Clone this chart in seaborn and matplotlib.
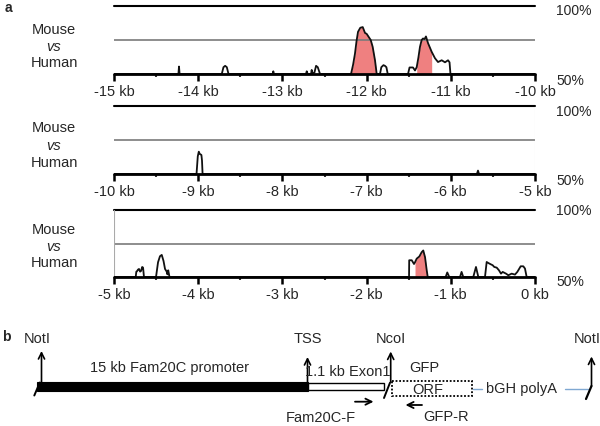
import numpy as np
import matplotlib
matplotlib.use("Agg")
import matplotlib.pyplot as plt
from matplotlib.patches import Rectangle
import seaborn as sns

sns.set_style("white")
plt.rcParams["font.family"] = ["Liberation Sans", "DejaVu Sans"]

# ---------------- data: percent identity (mouse vs human) ----------------
pos1 = [-15.0, -14.235, -14.228, -14.221, -13.72, -13.70, -13.68, -13.66, -13.64,
        -13.115, -13.108, -13.10, -12.72, -12.711, -12.70, -12.66, -12.652, -12.645,
        -12.62, -12.60, -12.58, -12.553, -12.185, -12.16, -12.138, -12.12, -12.102,
        -12.075, -12.046, -12.03, -12.019, -11.999, -11.983, -11.951, -11.928, -11.90,
        -11.88, -11.841, -11.825, -11.800, -11.782, -11.765, -11.749, -11.508, -11.49,
        -11.449, -11.425, -11.405, -11.385, -11.366, -11.346, -11.330, -11.312, -11.295,
        -11.271, -11.227, -11.188, -11.152, -11.108, -11.069, -11.033, -11.015, -11.004,
        -10.0]
val1 = [50, 50, 55.5, 50, 50, 55, 56, 55, 50,
        50, 52, 50, 50, 52, 50, 50, 53, 50.5,
        51, 56, 55, 50, 50, 57, 65, 74, 81,
        84, 84.5, 82, 80.2, 79.5, 78, 75, 70, 60,
        50, 50, 55, 56.5, 56, 55, 50, 50, 54.8,
        54.8, 52.6, 55, 62, 70, 75, 76.1, 75.7, 77.6,
        72.8, 66.3, 61.6, 58.8, 60.1, 58.6, 60.1, 58.6, 50,
        50]

pos2 = [-10.0, -9.02, -9.005, -8.993, -8.982, -8.962, -8.955, -8.948,
        -5.69, -5.677, -5.665, -5.0]
val2 = [50, 50, 63, 66.4, 64.8, 64, 60, 50,
        50, 52.5, 50, 50]

pos3 = [-5.0, -4.742, -4.735, -4.727, -4.715, -4.703, -4.690, -4.679, -4.665, -4.655,
        -4.644, -4.501, -4.477, -4.454, -4.433, -4.412, -4.394, -4.374, -4.366, -4.356,
        -4.341, -1.496, -1.494, -1.464, -1.437, -1.425, -1.405, -1.374, -1.346, -1.327,
        -1.306, -1.286, -1.274, -1.061, -1.042, -1.018, -0.891, -0.872, -0.852, -0.733,
        -0.701, -0.673, -0.594, -0.574, -0.556, -0.526, -0.503, -0.484, -0.455, -0.428,
        -0.404, -0.384, -0.344, -0.317, -0.277, -0.238, -0.210, -0.170, -0.139, -0.119,
        -0.099, 0.0]
val3 = [50, 50, 54, 54.3, 55.5, 56, 54, 54.5, 57.5, 57,
        50, 50, 61, 65.5, 66.5, 62, 56, 54, 52, 55,
        50, 50, 62.5, 62.5, 59.7, 61, 63.7, 65.3, 68.5, 69.8,
        64.8, 55, 50, 50, 53.4, 50, 50, 53.8, 50, 50,
        57.5, 50, 50, 61.2, 60.5, 59.5, 58.8, 57.5, 57, 55,
        52.5, 53.8, 52.5, 51.3, 52.5, 51.8, 53.8, 58, 58, 56.3,
        50, 50]

# conserved regions (filled)
fills1 = [(-12.185, -11.88), (-11.405, -11.227)]
fills2 = []
fills3 = [(-1.425, -1.274)]

starts = [-15, -10, -5]

# ---------------- figure ----------------
W, H = 600, 426
fig = plt.figure(figsize=(W / 100, H / 100), dpi=100)

panel_px = [(6, 74), (106, 174), (210, 277)]
data = [(pos1, val1, fills1), (pos2, val2, fills2), (pos3, val3, fills3)]
fill_color = "#EF8080"

for (top, bot), (pos, val, fills), start in zip(panel_px, data, starts):
    ax = fig.add_axes([114 / W, 1 - bot / H, 421 / W, (bot - top) / H])
    x = np.array(pos)
    y = np.array(val)
    for a, b in fills:
        m = (x >= a - 1e-9) & (x <= b + 1e-9)
        ax.fill_between(x, 50, y, where=m, color=fill_color, lw=0, zorder=1)
    sns.lineplot(x=x, y=y, ax=ax, color="#111111", lw=1.3, sort=False,
                 estimator=None, zorder=3)
    ax.set_xlim(start, start + 5)
    ax.set_ylim(50, 100)
    ax.axhline(100, color="black", lw=1.5, clip_on=False, zorder=2)
    ax.axhline(75, color="#7a7a7a", lw=1.2, zorder=2)
    ax.axhline(50, color="black", lw=2.0, clip_on=False, zorder=4)
    for s in ax.spines.values():
        s.set_visible(False)
    ticks = np.arange(start, start + 5.01, 1)
    ax.set_xticks(ticks)
    ax.set_xticklabels([f"{int(t)} kb" for t in ticks])
    ax.set_xticks(np.arange(start + 0.5, start + 5, 1), minor=True)
    ax.tick_params(axis="x", which="major", length=5, width=1.8, pad=3,
                   labelsize=10.5, color="black", bottom=True)
    ax.tick_params(axis="x", which="minor", length=2, width=1.5, color="#333333",
                   bottom=True)
    ax.set_yticks([])
    ax.set_xlabel("")
    ax.set_ylabel("")
    ax.patch.set_alpha(0)
    if start == -5:
        ax.axvline(-5, color="#aaaaaa", lw=0.8)
    if start == -10:
        ax.axvline(-5, color="#e4e4e4", lw=0.8)

# ---------------- overlay in pixel coordinates ----------------
ov = fig.add_axes([0, 0, 1, 1])
ov.set_xlim(0, W)
ov.set_ylim(H, 0)
ov.axis("off")

fs = 10.5
ov.text(5, 8, "a", fontsize=10, fontweight="bold", ha="left", va="center")
ov.text(2, 337, "b", fontsize=10, fontweight="bold", ha="left", va="center")

pct_y = [(11, 81), (112, 181), (211, 282)]
for (y100, y50) in pct_y:
    ov.text(556, y100, "100%", fontsize=10, ha="left", va="center")
    ov.text(556, y50, "50%", fontsize=10, ha="left", va="center")

label_y = [(30, 47, 63), (128, 146, 163), (230, 247, 263)]
for (ym, yv, yh) in label_y:
    ov.text(54, ym, "Mouse", fontsize=fs, ha="center", va="center")
    ov.text(54, yv, "vs", fontsize=fs, ha="center", va="center", style="italic")
    ov.text(54, yh, "Human", fontsize=fs, ha="center", va="center")

# ---- panel b: construct diagram ----
ov.add_patch(Rectangle((37, 381.7), 270.5, 9, facecolor="black", edgecolor="black", lw=0.8))
ov.add_patch(Rectangle((307.5, 382.5), 76, 7.5, facecolor="white", edgecolor="black", lw=1.0))
ov.add_patch(Rectangle((391.5, 381), 80, 15, fill=False, edgecolor="black", lw=1.3,
                       linestyle=(0, (1, 1))))
ov.plot([473, 482], [389.3, 389.3], color="#7fa8d2", lw=1.0)
ov.plot([565, 588], [389.3, 389.3], color="#7fa8d2", lw=1.0)

# slashes
ov.plot([34.3, 39.8], [395.5, 382.5], color="black", lw=1.4)
ov.plot([384, 390], [398, 382.7], color="black", lw=1.4)
ov.plot([586, 591.5], [399, 386], color="black", lw=1.6)

# upward arrows
def up_arrow(x, y0, y1):
    ov.annotate("", xy=(x, y1), xytext=(x, y0),
                arrowprops=dict(arrowstyle="->", lw=1.2, color="black",
                                shrinkA=0, shrinkB=0, mutation_scale=11))

up_arrow(41.5, 383, 351)
up_arrow(307.5, 383, 357)
up_arrow(390.7, 382, 351.5)
up_arrow(591.5, 386, 356.5)

ov.text(37, 339, "NotI", fontsize=fs, ha="center", va="center")
ov.text(308, 339, "TSS", fontsize=fs, ha="center", va="center")
ov.text(390.5, 339, "NcoI", fontsize=fs, ha="center", va="center")
ov.text(587, 339, "NotI", fontsize=fs, ha="center", va="center")

ov.text(170, 368, "15 kb Fam20C promoter", fontsize=fs, ha="center", va="center")
ov.text(347.5, 371.5, "1.1 kb Exon1", fontsize=fs, ha="center", va="center")
ov.text(424, 368, "GFP", fontsize=fs, ha="center", va="center")
ov.text(428, 390, "ORF", fontsize=fs, ha="center", va="center")
ov.text(521.5, 389.5, "bGH polyA", fontsize=fs, ha="center", va="center")

# primer arrows
ov.annotate("", xy=(373.5, 401.7), xytext=(355, 401.7),
            arrowprops=dict(arrowstyle="->", lw=1.3, color="black",
                            shrinkA=0, shrinkB=0, mutation_scale=11))
ov.annotate("", xy=(405.5, 405), xytext=(422, 405),
            arrowprops=dict(arrowstyle="->", lw=1.3, color="black",
                            shrinkA=0, shrinkB=0, mutation_scale=11))
ov.text(321, 417.5, "Fam20C-F", fontsize=fs, ha="center", va="center")
ov.text(446.5, 417, "GFP-R", fontsize=fs, ha="center", va="center")

fig.savefig("out.png", dpi=100)
